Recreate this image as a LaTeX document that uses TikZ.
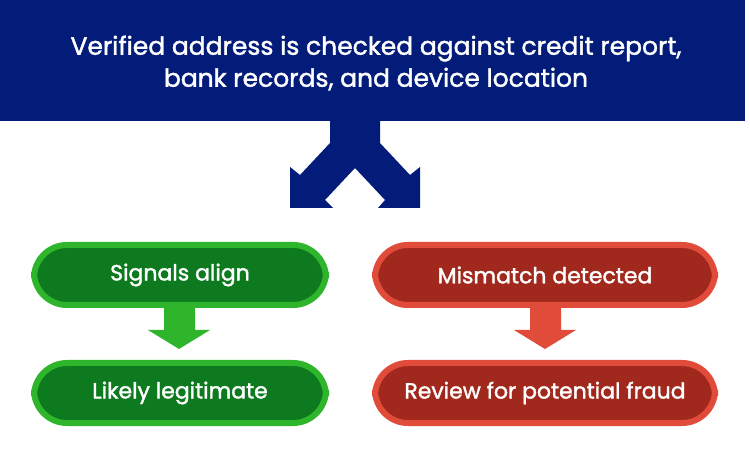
\documentclass[tikz,border=0pt]{standalone}
\usepackage{fontspec}
\setmainfont{Poppins}[FakeBold=1.6,AutoFakeBold=1.6]
\definecolor{navy}{HTML}{041C79}
\definecolor{gb}{HTML}{2EB52B}
\definecolor{gi}{HTML}{0D7A1F}
\definecolor{rb}{HTML}{E14B3A}
\definecolor{ri}{HTML}{A1281D}
\begin{document}
\begin{tikzpicture}[x=1pt,y=-1pt,
  pill/.style={rounded corners=33pt,line width=6pt,text=white,font=\bfseries\fontsize{22}{26}\selectfont,minimum height=60pt,inner sep=0pt},
  gp/.style={pill,draw=gb,fill=gi,minimum width=292pt},
  rp/.style={pill,draw=rb,fill=ri,minimum width=340pt}]
\useasboundingbox (0,0) rectangle (750,470);
\fill[navy] (0,0) rectangle (745,121);
\node[text=white,align=center,font=\bfseries\fontsize{25}{32}\selectfont] (t) at (376,63) {Verified address is checked against credit report,\\bank records, and device location};
\fill[navy] (330,120)--(330,143)--(300,175)--(290,167)--(290,208)--(333,208)--(325,200)--(355,168)--(385,200)--(378,208)--(420,208)--(420,167)--(410,175)--(380,143)--(380,120)--cycle;
\node[gp] (a) at (180,275) {Signals align};
\node[gp] (b) at (180,393) {Likely legitimate};
\node[rp] (c) at (545,275) {Mismatch detected};
\node[rp] (d) at (545,393) {Review for potential fraud};
\fill[gb] (164,308)--(164,330)--(148,330)--(179,349)--(210,330)--(195,330)--(195,308)--cycle;
\fill[rb] (530,308)--(530,330)--(514,330)--(545,349)--(576,330)--(561,330)--(561,308)--cycle;
\end{tikzpicture}
\end{document}
